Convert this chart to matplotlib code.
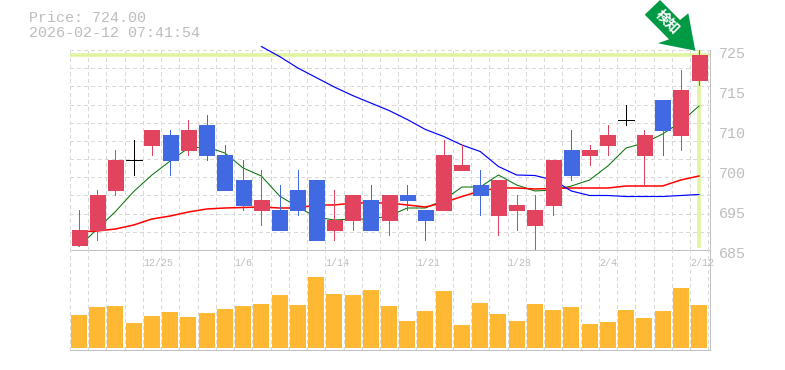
import numpy as np
import matplotlib
matplotlib.use("Agg")
import matplotlib.pyplot as plt
from matplotlib.patches import Polygon
from matplotlib.transforms import Affine2D

opens = [686,689,697,703,706,708,705,710,704,699,693,693,697,699,689,691,695,691,696,693,693,701,698,692,693,690,694,705,704,706,711,704,715,708,719]
closes = [689,696,703,703,709,703,709,704,697,694,695,689,693,687,691,696,689,696,695,691,704,702,696,699,694,693,703,700,705,708,711,708,709,717,724]
highs = [693,697,705,707,709,709,711,712,706,703,701,698,701,699,697,696,698,696,698,693,707,706,701,699,696,696,703,709,706,710,714,709,715,721,725]
lows = [686,687,696,700,704,700,704,703,697,693,690,689,692,687,687,689,689,688,693,687,693,701,692,688,689,685,692,699,702,704,710,698,704,705,718]
ma_green = [685.7,689.2,692.7,696.7,700,702.8,705.4,705.6,704.4,701.4,699.8,695.8,693.6,691.6,691,691.2,691.2,691.8,693.4,693.4,695,697.6,697.6,700,698,696.8,697,697.8,699,701.8,705.4,706.4,708.2,710.6,713.8]
ma_red = [688.6,688.8,689.2,690,691.2,691.8,692.6,693.2,693.4,693.5,693.6,693.4,693.4,694,694,694.4,694.4,694.4,694,693.6,694.5,695.7,696.8,697.4,697.4,697.2,697.3,697.4,697.4,697.4,697.8,697.8,697.8,699,699.8]
ma_blue = [np.nan]*10 + [725.7,723.7,721.4,719.5,717.6,715.9,714.4,712.9,711.1,709.1,707.7,706,704.7,701.7,700,699.9,699,696.8,695.9,695.9,695.7,695.7,695.7,695.9,696.1]
volumes = [33,41,42,25,32,36,31,35,39,42,44,53,43,71,54,53,58,42,27,37,57,23,45,34,27,44,38,41,24,26,38,30,37,60,43]
x_labels = {4:"12/25",9:"1/6",14:"1/14",19:"1/21",24:"1/28",29:"2/4",34:"2/12"}
y_ticks = [725,717,709,701,693,685]
y_labels = ["725","715","710","700","695","685"]
last_price = 724

RED="#E2445F"; BLUE="#4169E1"; GRID="#D9D9D9"; BORDER="#C0C0C0"; HL="#DFF3A0"; BAR="#FFB833"; TXT="#BDBDBD"
MONO="Liberation Mono"

W,H=785,370
fig=plt.figure(figsize=(W/100,H/100),dpi=100,facecolor="white")
def axpx(l,t,r,b):
    return fig.add_axes([l/W,(H-b)/H,(r-l)/W,(b-t)/H])
ax=axpx(70,50,710,250)
vx=axpx(70,250,710,350)
pxu=640/35.096
x0=-9/pxu
for a in (ax,vx):
    a.set_xlim(x0,x0+640/pxu)
    a.set_axisbelow(True)
    a.patch.set_visible(False)
    a.set_xticks([x0+i for i in range(36)])
    a.tick_params(length=0,labelbottom=False,labelleft=False)
    a.grid(True,axis="x",color=GRID,lw=0.72,ls=(0,(3,3)),antialiased=False)
    a.spines["top"].set_visible(False)
    a.spines["left"].set_visible(False)
    for s in ("right","bottom"):
        a.spines[s].set_color(BORDER); a.spines[s].set_linewidth(0.72); a.spines[s].set_antialiased(False)
ax.set_ylim(685,725)
ax.set_yticks([725-40/11*k for k in range(12)])
ax.grid(True,axis="y",color=GRID,lw=0.72,ls=(0,(3,3)),antialiased=False)
vx.set_ylim(-2,98)
vx.set_yticks([])

xs=np.arange(35)
ax.axhline(last_price,color=HL,lw=2.6,zorder=1,snap=True)
ax.vlines(xs[-1],685.5,725,color=HL,lw=2.6,zorder=1,snap=True)
for vals,c,lw in ((ma_green,"#007000",0.72),(ma_red,"#FF0000",1.1),(ma_blue,"#0000FF",0.85)):
    ax.plot(xs,vals,color=c,lw=lw,zorder=2,clip_on=False)

bw=15/pxu
for i in xs:
    o,c,h,l=opens[i],closes[i],highs[i],lows[i]
    col="black" if o==c else (RED if c>o else BLUE)
    ax.vlines(i,l,h,color=col,lw=0.72,zorder=3,antialiased=False)
    if o==c:
        ax.hlines(o,i-8/pxu,i+8/pxu,color=col,lw=0.72,zorder=3,antialiased=False)
    else:
        ax.bar(i,abs(c-o),bottom=min(o,c),width=bw,color=col,edgecolor=col,lw=0.72,zorder=4,antialiased=False)
vx.bar(xs,volumes,width=16/pxu,color=BAR,lw=0,zorder=3,antialiased=False)

for t,s in zip(y_ticks,y_labels):
    ax.annotate(s,xy=(1,t),xycoords=ax.get_yaxis_transform(),xytext=(9,-4),textcoords="offset pixels",
                family=MONO,fontsize=10.8,color=TXT,ha="left",va="center",annotation_clip=False)
for i,s in x_labels.items():
    ax.annotate(s,xy=(x0+i,0),xycoords=ax.get_xaxis_transform(),xytext=(0,-12.5),textcoords="offset pixels",
                family=MONO,fontsize=7.2,color=TXT,ha="left",va="center",annotation_clip=False)

fig.text(29/W,1-18.5/H,f"Price: {last_price:.2f}",family=MONO,fontsize=10.8,color=TXT,ha="left",va="center")
fig.text(29/W,1-33/H,"2026-02-12 07:41:54",family=MONO,fontsize=10.8,color=TXT,ha="left",va="center")

# signal arrow (pixel coordinates, y from the top)
arrow=[(660,0),(644.7,14.7),(669,39.3),(658,43.3),(695.3,50.7),(688.3,13.3),(680,20)]
tf=Affine2D().scale(1,-1).translate(0,H)
fig.add_artist(Polygon(arrow,closed=True,transform=tf,facecolor="#009944",edgecolor="none",zorder=10))
fig.text(667.2/W,1-22.5/H,"検知",family="Noto Sans CJK JP",fontweight="bold",fontsize=10,color="white",
         rotation=-45,ha="center",va="center",rotation_mode="anchor",zorder=11)

fig.savefig("out.png",dpi=100)
